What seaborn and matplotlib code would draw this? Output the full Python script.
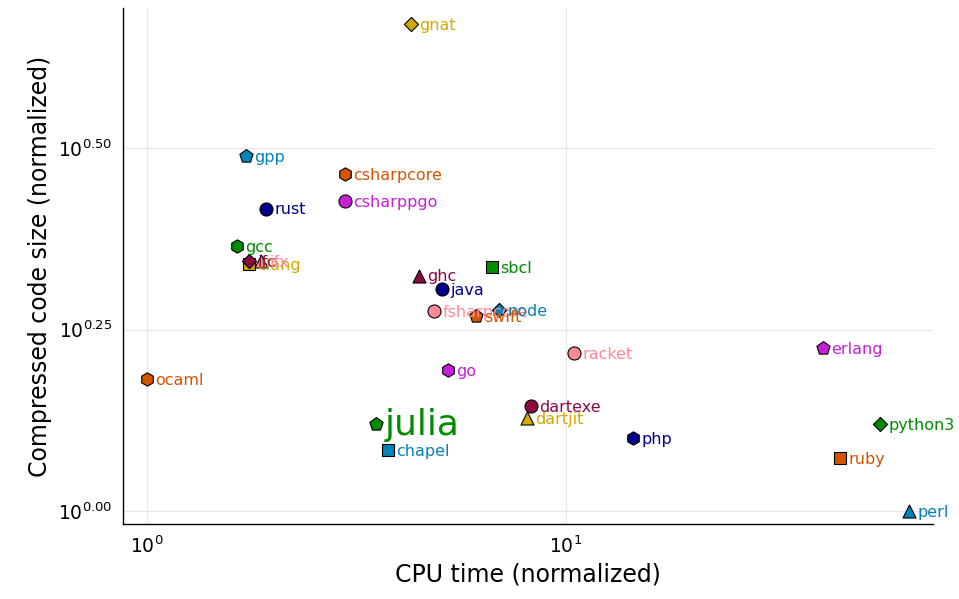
import numpy as np
import pandas as pd
import matplotlib
matplotlib.use("Agg")
import matplotlib.pyplot as plt
import seaborn as sns

# languages, normalized CPU time and compressed code size
langs = ["gnat", "gpp", "csharpcore", "rust", "csharppgo", "gcc", "clang", "ifc", "ifx",
         "ghc", "sbcl", "java", "fsharpcore", "node", "swift", "racket", "erlang", "ocaml",
         "go", "dartexe", "dartjit", "julia", "chapel", "php", "python3", "ruby", "perl"]
cpu = [4.27, 1.72, 2.97, 1.92, 2.97, 1.64, 1.75, 1.75, 1.87,
       4.46, 6.66, 5.06, 4.84, 6.92, 6.10, 10.45, 41.1, 1.0,
       5.23, 8.25, 8.07, 3.52, 3.76, 14.45, 56.2, 45.1, 65.9]
size = [4.69, 3.08, 2.91, 2.61, 2.67, 2.32, 2.19, 2.21, 2.21,
        2.11, 2.17, 2.02, 1.887, 1.89, 1.857, 1.651, 1.677, 1.52,
        1.564, 1.395, 1.343, 1.318, 1.213, 1.26, 1.318, 1.183, 1.0]
colors = ["#D4AA00", "#0482BA", "#D45500", "#00008B", "#C81FD8", "#008B00", "#D4AA00", "#8B0A3F", "#FF8A96",
          "#8B0A3F", "#008B00", "#00008B", "#FF8A96", "#0482BA", "#D45500", "#FF8A96", "#C81FD8", "#D45500",
          "#C81FD8", "#8B0A3F", "#D4AA00", "#008B00", "#0482BA", "#00008B", "#008B00", "#D45500", "#0482BA"]
shapes = ["D", "p", "h", "o", "o", "h", "s", "D", "^",
          "^", "s", "o", "o", "D", "p", "o", "p", "h",
          "h", "o", "^", "p", "s", "h", "D", "s", "^"]

# marker area per shape so they look equally big
msize = {"D": 52, "p": 100, "h": 92, "o": 88, "s": 78, "^": 88}

df = pd.DataFrame({"lang": langs, "cpu": cpu, "size": size, "shape": shapes})

sns.set_style("white")
plt.rcParams['font.family'] = ['DejaVu Sans']
plt.rcParams['text.color'] = 'black'
plt.rcParams['axes.labelcolor'] = 'black'
plt.rcParams['xtick.color'] = 'black'
plt.rcParams['ytick.color'] = 'black'

fig = plt.figure(figsize=(9.59, 5.99), dpi=100)
ax = fig.add_axes([0.1283, 0.1252, 0.8446, 0.8614])

# one point at a time, so the drawing order matches the list
for i, row in df.iterrows():
    sns.scatterplot(data=df.iloc[[i]], x="cpu", y="size", color=colors[i],
                    marker=row["shape"], s=msize[row["shape"]], edgecolor="black",
                    linewidth=0.8, legend=False, ax=ax, zorder=3)

for l, x, y, c in zip(langs, cpu, size, colors):
    fs = 26 if l == "julia" else 11.5
    ax.annotate(l, (x, y), xytext=(6, -1), textcoords="offset points",
                ha="left", va="center", color=c, fontsize=fs, zorder=4)

ax.set_xscale("log")
ax.set_yscale("log")
ax.set_xlim(10 ** -0.0573, 10 ** 1.876)
ax.set_ylim(10 ** -0.0179, 10 ** 0.6928)
ax.set_xticks([1, 10])
ax.set_xticklabels([r"$\mathregular{10^{0}}$", r"$\mathregular{10^{1}}$"])
ax.set_yticks([1, 10 ** 0.25, 10 ** 0.5])
ax.set_yticklabels([r"$\mathregular{10^{0.00}}$", r"$\mathregular{10^{0.25}}$", r"$\mathregular{10^{0.50}}$"])
ax.minorticks_off()
ax.tick_params(direction="in", length=5, width=0.8, labelsize=13.5, pad=8)
ax.grid(True, color="#e6e6e6", linewidth=0.8)
for s in ["top", "right"]:
    ax.spines[s].set_visible(False)
for s in ["left", "bottom"]:
    ax.spines[s].set_color("black")
    ax.spines[s].set_linewidth(1.0)

ax.set_xlabel("CPU time (normalized)", fontsize=17)
ax.set_ylabel("Compressed code size (normalized)", fontsize=17)

fig.savefig("out.png", dpi=100)
